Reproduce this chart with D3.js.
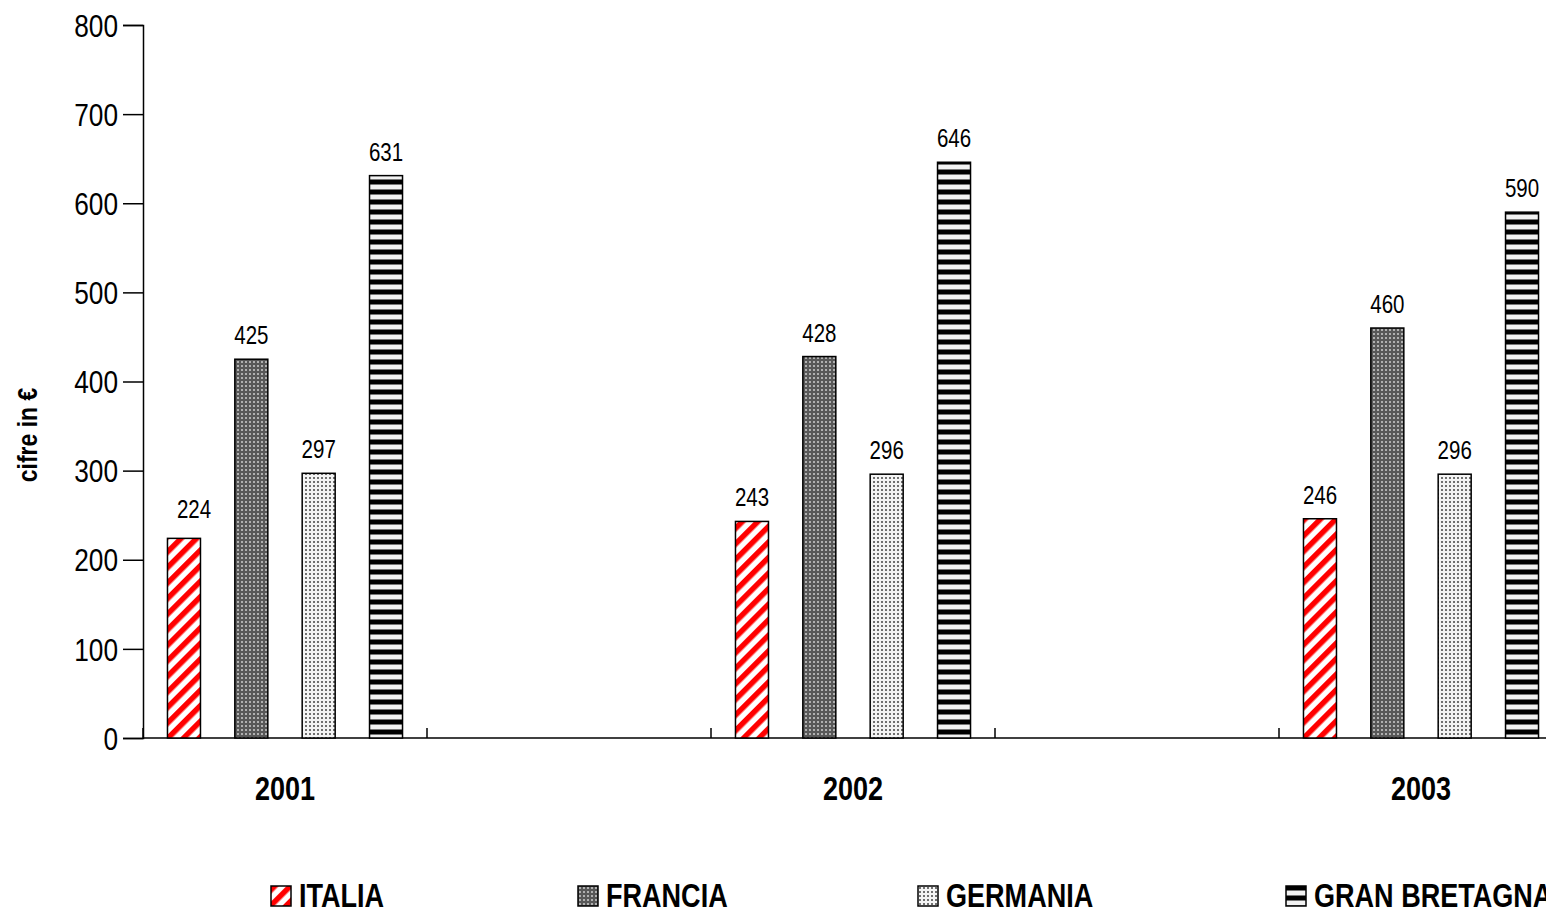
<!DOCTYPE html>
<html>
<head>
<meta charset="utf-8">
<script src="https://cdn.jsdelivr.net/npm/d3@7"></script>
<style>
  html, body { margin: 0; padding: 0; background: #fff; }
  svg { display: block; font-family: "Liberation Sans", Arial, sans-serif; }
</style>
</head>
<body>
<svg id="chart" width="1546" height="913"></svg>
<script>
// Years shown on the category axis
const years = ["2001", "2002", "2003"];
// Countries (one bar per country in each year)
const countries = ["ITALIA", "FRANCIA", "GERMANIA", "GRAN BRETAGNA"];
// Values in € per country, one entry per year
const italia    = [224, 243, 246];
const francia   = [425, 428, 460];
const germania  = [297, 296, 296];
const granBret  = [631, 646, 590];
// Value-axis ticks
const yTicks = [0, 100, 200, 300, 400, 500, 600, 700, 800];
const yTitle = "cifre in €";

const seriesValues = [italia, francia, germania, granBret];
const patternIds = ["pat-it", "pat-fr", "pat-de", "pat-gb"];

// narrow face: Liberation Sans compressed horizontally
const NARROW = 0.82;
const narrowAt = (x, y) => `translate(${x},${y}) scale(${NARROW},1)`;

const svg = d3.select("#chart");
const defs = svg.append("defs");

// --- fill patterns ---------------------------------------------------------
// Italia: red diagonal stripes
const pIt = defs.append("pattern").attr("id", "pat-it").attr("patternUnits", "userSpaceOnUse")
  .attr("width", 11).attr("height", 11).attr("patternTransform", "rotate(45)");
pIt.append("rect").attr("width", 11).attr("height", 11).attr("fill", "#fff");
pIt.append("rect").attr("width", 5.5).attr("height", 11).attr("fill", "#ff0000");

// Francia: dark grey fine check
const pFr = defs.append("pattern").attr("id", "pat-fr").attr("patternUnits", "userSpaceOnUse")
  .attr("width", 4).attr("height", 4);
pFr.append("rect").attr("width", 4).attr("height", 4).attr("fill", "#585858");
pFr.append("rect").attr("x", 1).attr("y", 1).attr("width", 2).attr("height", 2).attr("fill", "#b0b0b0");

// Germania: light grey dots
const pDe = defs.append("pattern").attr("id", "pat-de").attr("patternUnits", "userSpaceOnUse")
  .attr("width", 4).attr("height", 4);
pDe.append("rect").attr("width", 4).attr("height", 4).attr("fill", "#f4f4f4");
pDe.append("rect").attr("x", 1).attr("y", 1).attr("width", 2).attr("height", 2).attr("fill", "#707070");

// Gran Bretagna: black horizontal stripes
const pGb = defs.append("pattern").attr("id", "pat-gb").attr("patternUnits", "userSpaceOnUse")
  .attr("width", 10).attr("height", 10);
pGb.append("rect").attr("width", 10).attr("height", 10).attr("fill", "#f2f2f2");
pGb.append("rect").attr("y", 0).attr("width", 10).attr("height", 4).attr("fill", "#000");
pGb.append("rect").attr("y", 4).attr("width", 10).attr("height", 1).attr("fill", "#777");
pGb.append("rect").attr("y", 9).attr("width", 10).attr("height", 1).attr("fill", "#777");

// --- scales ----------------------------------------------------------------
const plotLeft = 143, plotBottom = 738, plotTop = 25;
const slotW = 284;                       // width of one category slot
// five slots: each year is followed by an empty slot
const slots = d3.range(5);
const x0 = d3.scaleBand().domain(slots).range([plotLeft, plotLeft + slotW * slots.length]);
const yearSlot = i => i * 2;
const x1 = d3.scaleBand().domain(countries).range([7.3, slotW - 7.3]);
const barW = x1.bandwidth() * 0.49;

const y = d3.scaleLinear().domain([0, 800]).range([plotBottom, plotTop]);

// --- axes ------------------------------------------------------------------
const yAxis = d3.axisLeft(y).tickValues(yTicks).tickSize(20).tickPadding(5);
const gy = svg.append("g").attr("transform", `translate(${plotLeft},0)`).call(yAxis);
gy.attr("font-family", null);
gy.select(".domain").attr("stroke", "#000").attr("stroke-width", 1.5);
gy.selectAll(".tick line").attr("stroke", "#000").attr("stroke-width", 1.5);
gy.selectAll(".tick text")
  .attr("font-size", 32).attr("fill", "#000")
  .attr("dy", "0.35em")
  .attr("transform", function () { return narrowAt(+this.getAttribute("x"), 0); })
  .attr("x", 0);

// category axis: baseline with inward ticks at slot boundaries
const xBoundaries = d3.range(slots.length + 1).map(i => plotLeft + slotW * i);
svg.append("line").attr("x1", plotLeft).attr("x2", 1546).attr("y1", plotBottom).attr("y2", plotBottom)
  .attr("stroke", "#000").attr("stroke-width", 1.5);
svg.append("g").selectAll("line").data(xBoundaries).join("line")
  .attr("x1", d => d).attr("x2", d => d).attr("y1", plotBottom).attr("y2", plotBottom - 10)
  .attr("stroke", "#000").attr("stroke-width", 1.5);

svg.append("g").selectAll("text").data(years).join("text")
  .attr("transform", (d, i) => narrowAt(x0(yearSlot(i)) + x0.bandwidth() / 2, 800))
  .attr("text-anchor", "middle")
  .attr("font-size", 33).attr("font-weight", "bold")
  .text(d => d);

// axis title
svg.append("text")
  .attr("transform", "translate(37,435) rotate(-90) scale(" + NARROW + ",1)")
  .attr("text-anchor", "middle")
  .attr("font-size", 28).attr("font-weight", "bold")
  .text(yTitle);

// --- bars --------------------------------------------------------------------
const bars = [];
seriesValues.forEach((vals, si) => {
  vals.forEach((v, yi) => bars.push({ country: countries[si], si, yi, v }));
});
// small manual nudges of a few data labels
const labelShift = { "0-0": [10, -5] };
const shiftOf = d => labelShift[`${d.si}-${d.yi}`] || [0, 0];

const gBars = svg.append("g");
gBars.selectAll("rect").data(bars).join("rect")
  .attr("x", d => x0(yearSlot(d.yi)) + x1(d.country) + (x1.bandwidth() - barW) / 2)
  .attr("y", d => y(d.v))
  .attr("width", barW)
  .attr("height", d => y(0) - y(d.v))
  .attr("fill", d => `url(#${patternIds[d.si]})`)
  .attr("stroke", "#000").attr("stroke-width", 1.5);

svg.append("g").selectAll("text").data(bars).join("text")
  .attr("transform", d => narrowAt(
    x0(yearSlot(d.yi)) + x1(d.country) + x1.bandwidth() / 2 + shiftOf(d)[0],
    y(d.v) - 15 + shiftOf(d)[1]))
  .attr("text-anchor", "middle")
  .attr("font-size", 25)
  .text(d => d.v);

// --- legend -------------------------------------------------------------------
const legendX = [271, 578, 918, 1286];
const lg = svg.append("g").selectAll("g").data(countries).join("g")
  .attr("transform", (d, i) => `translate(${legendX[i]},886)`);
lg.append("rect").attr("width", 20).attr("height", 20)
  .attr("fill", (d, i) => `url(#${patternIds[i]})`)
  .attr("stroke", "#000").attr("stroke-width", 1.5);
lg.append("text")
  .attr("transform", narrowAt(28, 21))
  .attr("font-size", 33).attr("font-weight", "bold")
  .text(d => d);
</script>
</body>
</html>
